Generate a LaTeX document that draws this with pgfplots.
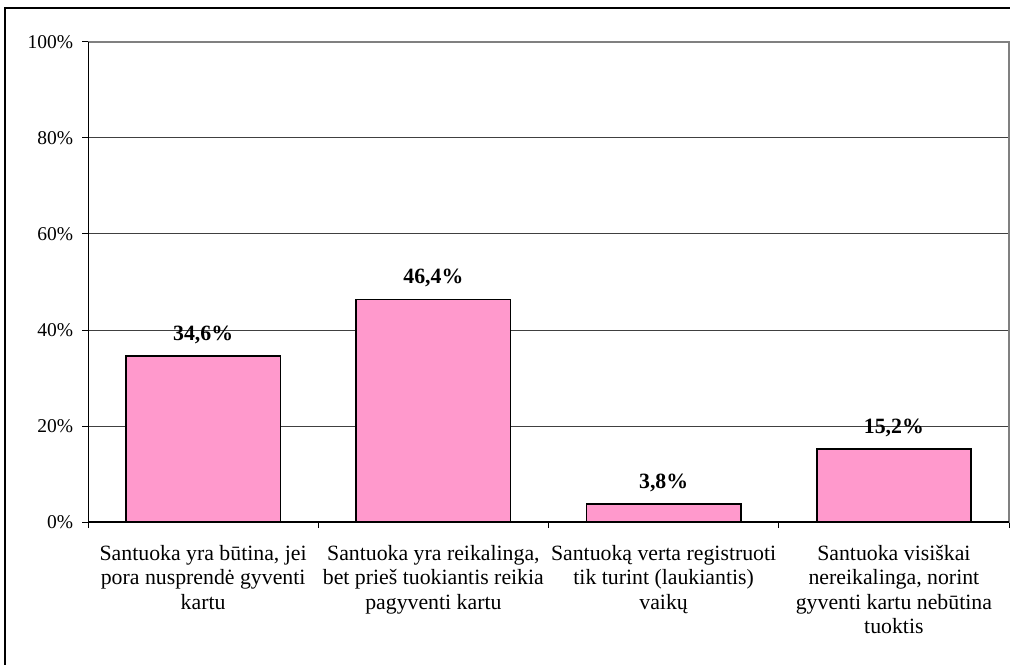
\documentclass[border=0pt]{standalone}
\usepackage{pgfplots}
\pgfplotsset{compat=1.18}
\usepackage{fontspec}
\setmainfont{Liberation Serif}
\definecolor{barpink}{RGB}{255,153,204}
\begin{document}
\fontsize{9.75}{12}\selectfont
\begin{tikzpicture}
\path[use as bounding box] (0,0) rectangle (505pt,332pt);
\begin{scope}
\clip (0,0) rectangle (505pt,332pt);
\fill[white] (0,0) rectangle (505pt,332pt);
\draw[line width=1pt] (2.5pt,-20pt) -- (2.5pt,328pt) -- (520pt,328pt);
\begin{axis}[
  at={(44pt,71pt)}, anchor=south west,
  scale only axis, width=460.5pt, height=240pt,
  xmin=-0.5, xmax=3.5, ymin=0, ymax=100,
  enlargelimits=false,
  /pgf/number format/assume math mode=true,
  xtick={0,1,2,3},
  xticklabels={
    {Santuoka yra būtina, jei\\pora nusprendė gyventi\\kartu},
    {Santuoka yra reikalinga,\\bet prieš tuokiantis reikia\\pagyventi kartu},
    {Santuoką verta registruoti\\tik turint (laukiantis)\\vaikų},
    {Santuoka visiškai\\nereikalinga, norint\\gyventi kartu nebūtina\\tuoktis}},
  minor xtick={-0.5,0.5,1.5,2.5,3.5},
  ytick={0,20,40,60,80,100},
  yticklabel={\pgfmathprintnumber{\tick}\%},
  tick align=outside,
  major tick length=3pt, minor tick length=3pt,
  xtick pos=bottom, ytick pos=left,
  tick style={black, line width=0.5pt},
  every major x tick/.append style={draw=none},
  every minor x tick/.append style={black, line width=0.5pt},
  xticklabel style={font=\fontsize{10.9}{12.25}\selectfont, align=center, yshift=-5pt},
  yticklabel style={font=\fontsize{9.75}{12}\selectfont, xshift=-1pt},
  ymajorgrids,
  major grid style={black!75, line width=0.5pt},
  axis line style={draw=gray, line width=0.5pt},
  ybar, bar width=0.67,
  nodes near coords={\pgfmathprintnumber[fixed,precision=1,fixed zerofill,use comma]{\pgfplotspointmeta}\%},
  every node near coord/.append style={font=\fontsize{10.9}{12.25}\selectfont\bfseries, yshift=2.5pt},
]
\addplot[fill=barpink, draw=black, line width=0.75pt] coordinates {
  (0,34.6) (1,46.4) (2,3.8) (3,15.2)
};
\draw[gray, line width=0.6pt] (rel axis cs:0,1) -- (rel axis cs:1,1) -- (rel axis cs:1,0);
\draw[black, line width=0.6pt] (rel axis cs:0,1) -- (rel axis cs:0,0) -- (rel axis cs:1,0);
\end{axis}
\end{scope}
\end{tikzpicture}
\end{document}
